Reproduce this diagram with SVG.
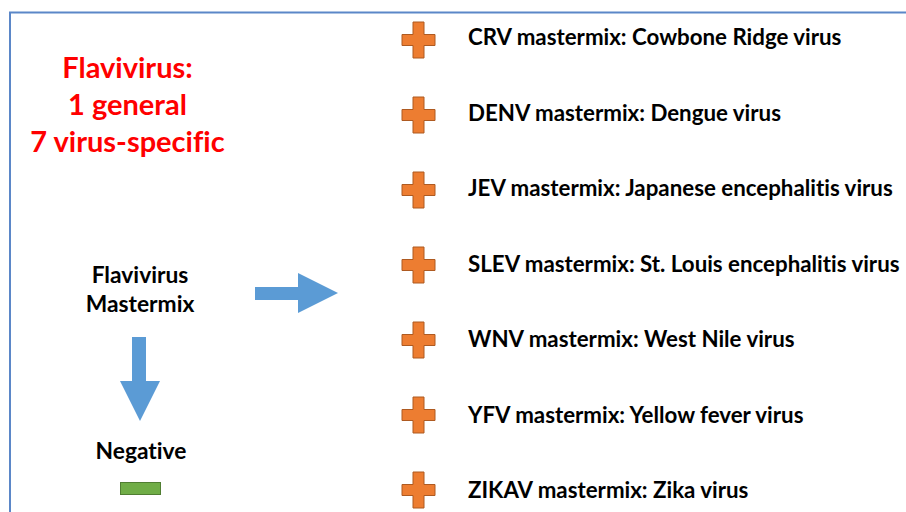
<svg xmlns="http://www.w3.org/2000/svg" width="906" height="512" viewBox="0 0 906 512">
<style>
text{font-variant-ligatures:none}
.t{font-family:Lato,"Liberation Sans",sans-serif;font-weight:bold;fill:#000}
.title{font-family:Lato,"Liberation Sans",sans-serif;font-weight:bold;fill:#FF0000;font-size:29px}
.lbl{font-size:22.3px}
.lbl2{font-size:22.8px}
.plus{fill:#ED7D31;stroke:#AE5A21;stroke-width:1}
.arrow{fill:#5B9BD5}
</style>
<defs>
<path id="plus" d="M-5.5,-18 H5.5 V-5.5 H16.5 V5.5 H5.5 V18 H-5.5 V5.5 H-16.5 V-5.5 H-5.5 Z"/>
</defs>
<rect x="0" y="0" width="906" height="512" fill="#FFFFFF"/>
<path d="M10,512 V12.5 H906" fill="none" stroke="#5B87C8" stroke-width="2"/>
<g id="title">
<text class="title" x="127.5" y="78" text-anchor="middle">Flavivirus:</text>
<text class="title" x="127.5" y="115" text-anchor="middle">1 general</text>
<text class="title" x="127.5" y="152" text-anchor="middle">7 virus-specific</text>
</g>
<g id="flavivirus-mastermix">
<text class="t lbl2" x="140" y="283" text-anchor="middle">Flavivirus</text>
<text class="t lbl2" x="140" y="312" text-anchor="middle">Mastermix</text>
</g>
<g id="negative">
<text class="t lbl2" x="141" y="459" text-anchor="middle">Negative</text>
<rect x="120.5" y="482.5" width="40" height="12" fill="#70AD47" stroke="#507E32" stroke-width="1"/>
</g>
<g id="connectors">
<path class="arrow" d="M255,287 H298 V273 L338,293 L298,313 V300 H255 Z"/>
<path class="arrow" d="M132,337 H146 V381 H160 L140,421 L120,381 H132 Z"/>
</g>
<g id="crv"><use href="#plus" class="plus" transform="translate(418.5,40)"/><text class="t lbl" x="468" y="45">CRV mastermix: Cowbone Ridge virus</text></g>
<g id="denv"><use href="#plus" class="plus" transform="translate(418.5,115)"/><text class="t lbl" x="468" y="120.5">DENV mastermix: Dengue virus</text></g>
<g id="jev"><use href="#plus" class="plus" transform="translate(418.5,190)"/><text class="t lbl" x="468" y="196">JEV mastermix: Japanese encephalitis virus</text></g>
<g id="slev"><use href="#plus" class="plus" transform="translate(418.5,265)"/><text class="t lbl" x="468" y="271.5">SLEV mastermix: St. Louis encephalitis virus</text></g>
<g id="wnv"><use href="#plus" class="plus" transform="translate(418.5,340)"/><text class="t lbl" x="468" y="347">WNV mastermix: West Nile virus</text></g>
<g id="yfv"><use href="#plus" class="plus" transform="translate(418.5,415)"/><text class="t lbl" x="468" y="422.5">YFV mastermix: Yellow fever virus</text></g>
<g id="zikav"><use href="#plus" class="plus" transform="translate(418.5,490)"/><text class="t lbl" x="468" y="498">ZIKAV mastermix: Zika virus</text></g>
</svg>
